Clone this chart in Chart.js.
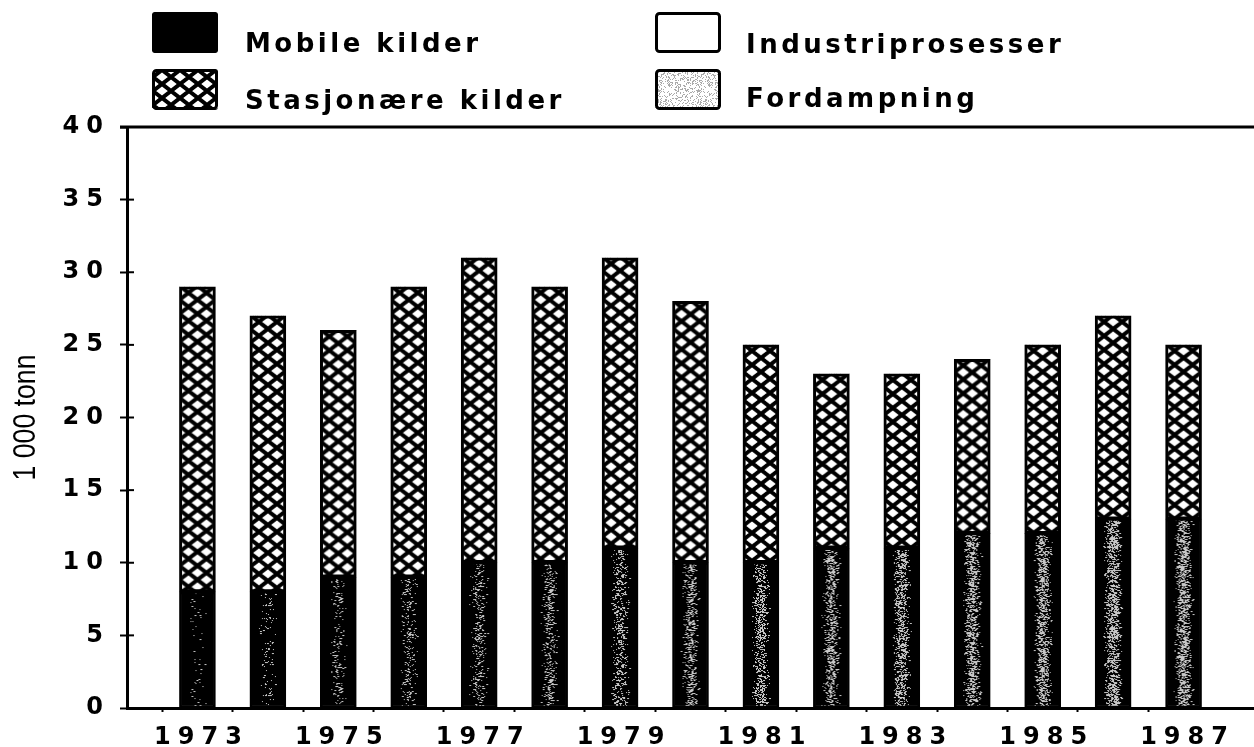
<!DOCTYPE html>
<html>
<head>
<meta charset="utf-8">
<script src="https://cdn.jsdelivr.net/npm/chart.js@4.4.1/dist/chart.umd.min.js"></script>
<style>
html,body{margin:0;padding:0;background:#fff;}
#wrap{width:1254px;height:747px;position:relative;}
</style>
</head>
<body>
<div id="wrap"><canvas id="c" width="1254" height="747"></canvas></div>
<script>
// ---------- data ----------
const years = [1973,1974,1975,1976,1977,1978,1979,1980,1981,1982,1983,1984,1985,1986,1987];
const mobileKilder = [8,8,9,9,10,10,11,10,10,11,11,12,12,13,13];
const stasjonaereKilder = [21,19,17,20,21,19,20,18,15,12,12,12,13,14,12];
const industriprosesser = [0,0,0,0,0,0,0,0,0,0,0,0,0,0,0];
const fordampning = [0,0,0,0,0,0,0,0,0,0,0,0,0,0,0];
const seriesNames = ['Mobile kilder','Stasjonære kilder','Industriprosesser','Fordampning'];
const yTickValues = [0,5,10,15,20,25,30,35,40];
const xTickLabels = ['1973','1975','1977','1979','1981','1983','1985','1987'];
const axisTitle = '1 000 tonn';

// ---------- patterns ----------
function makeHatchTile(){
  const c = document.createElement('canvas'); c.width = 18; c.height = 14;
  const g = c.getContext('2d');
  g.fillStyle = '#fff'; g.fillRect(0,0,18,14);
  g.strokeStyle = '#000'; g.lineWidth = 4;
  for (const dx of [-18,0,18]) for (const dy of [-14,0,14]) {
    g.beginPath();
    g.moveTo(dx,dy); g.lineTo(dx+18,dy+14);
    g.moveTo(dx+18,dy); g.lineTo(dx,dy+14);
    g.stroke();
  }
  return c;
}
function makeSpeckleTile(w,h,base,dot,density,seed,band){
  const c = document.createElement('canvas'); c.width = w; c.height = h;
  const g = c.getContext('2d');
  g.fillStyle = base; g.fillRect(0,0,w,h);
  let s = seed;
  const rnd = () => { s = (s * 1103515245 + 12345) % 2147483648; return s / 2147483648; };
  g.fillStyle = dot;
  const n = Math.floor(w*h*density);
  for (let i=0;i<n;i++){
    const x = band ? (w*0.2 + (rnd()+rnd()+rnd())/3 * w*0.6) : rnd()*w;
    const y = rnd()*h;
    const sz = band && rnd() < 0.3 ? 2 : 1;
    g.fillRect(Math.floor(x), Math.floor(y), sz, 1);
  }
  return c;
}
const hatchTile = makeHatchTile();
const mobileTiles = years.map((y,i) => makeSpeckleTile(36, 90, '#000', '#c8c8c8', 0.012 + i*0.014, 777 + i*31, true));
const fordTile = makeSpeckleTile(40, 40, '#fff', '#aaa', 0.3, 4242, false);

const canvas = document.getElementById('c');
const ctx2d = canvas.getContext('2d');
const hatchBase = ctx2d.createPattern(hatchTile, 'repeat');
const fordBase = ctx2d.createPattern(fordTile, 'repeat');

function hatchFill(ctx){
  if (ctx.type !== 'data') return hatchBase;
  const ch = ctx.chart;
  const cx = ch.scales.x.getPixelForValue(years[ctx.dataIndex]);
  const top = ch.scales.y.getPixelForValue(mobileKilder[ctx.dataIndex] + stasjonaereKilder[ctx.dataIndex]);
  const p = ch.ctx.createPattern(hatchTile, 'repeat');
  p.setTransform(new DOMMatrix().translate(cx - 18, top - 1));
  return p;
}
function mobileFill(ctx){
  if (ctx.type !== 'data') return '#000';
  const ch = ctx.chart;
  const cx = ch.scales.x.getPixelForValue(years[ctx.dataIndex]);
  const p = ch.ctx.createPattern(mobileTiles[ctx.dataIndex], 'repeat');
  p.setTransform(new DOMMatrix().translate(cx - 18, 0));
  return p;
}

// ---------- extras plugin (legend, title, frame) ----------
const legendSlots = [
  {x:152, y:12, tx:245, ty:52},
  {x:152, y:69, tx:245, ty:109},
  {x:655, y:12, tx:746, ty:53},
  {x:655, y:69, tx:746, ty:107}
];
const extras = {
  id: 'extras',
  beforeDraw(chart){
    chart.ctx.letterSpacing = '7px';
  },
  afterDraw(chart){
    const c = chart.ctx;
    const a = chart.chartArea;
    c.save();
    c.letterSpacing = '0px';
    // top frame line
    c.strokeStyle = '#000'; c.lineWidth = 3;
    c.beginPath(); c.moveTo(a.left - 7, a.top); c.lineTo(chart.width, a.top); c.stroke();
    // inner y ticks
    const ys = chart.scales.y;
    c.lineWidth = 2;
    ys.ticks.forEach(t => {
      const py = ys.getPixelForValue(t.value);
      c.beginPath(); c.moveTo(a.left, py); c.lineTo(a.left + 7, py); c.stroke();
    });
    // y title (condensed)
    c.save();
    c.translate(35, (a.top + a.bottom) / 2);
    c.rotate(-Math.PI/2);
    c.scale(0.86, 1);
    c.fillStyle = '#000';
    c.font = "31px 'Liberation Sans', Arial, sans-serif";
    c.textAlign = 'center'; c.textBaseline = 'alphabetic';
    c.fillText(axisTitle, 0, 0);
    c.restore();
    // legend
    const fills = ['#000', hatchBase, '#fff', fordBase];
    chart.data.datasets.forEach((ds, i) => {
      const s = legendSlots[i];
      c.fillStyle = fills[i];
      c.beginPath(); c.roundRect(s.x, s.y, 66, 41, 3); c.fill();
      c.strokeStyle = '#000'; c.lineWidth = 3;
      c.beginPath(); c.roundRect(s.x + 1.5, s.y + 1.5, 63, 38, 3); c.stroke();
      c.fillStyle = '#000';
      c.font = "bold 26px 'DejaVu Sans', sans-serif";
      c.letterSpacing = '3.5px';
      c.textAlign = 'left'; c.textBaseline = 'alphabetic';
      c.fillText(ds.label, s.tx, s.ty);
      c.letterSpacing = '0px';
    });
    c.restore();
    c.letterSpacing = '0px';
  }
};

const tickFont = {family: "'DejaVu Sans', sans-serif", weight: 'bold', size: 24};

new Chart(canvas, {
  type: 'bar',
  data: {
    labels: years,
    datasets: [
      {label: seriesNames[0], data: mobileKilder, backgroundColor: mobileFill, borderColor: '#000', borderWidth: 2},
      {label: seriesNames[1], data: stasjonaereKilder, backgroundColor: hatchFill, borderColor: '#000', borderWidth: 3},
      {label: seriesNames[2], data: industriprosesser, backgroundColor: '#fff', borderColor: '#000', borderWidth: 0},
      {label: seriesNames[3], data: fordampning, backgroundColor: fordBase, borderColor: '#000', borderWidth: 0}
    ]
  },
  options: {
    responsive: false,
    animation: false,
    devicePixelRatio: 1,
    layout: {padding: {top: 127, left: 0, right: 0, bottom: 0}},
    plugins: {legend: {display: false}, tooltip: {enabled: false}},
    datasets: {bar: {barThickness: 36, borderSkipped: false}},
    scales: {
      x: {
        type: 'linear', min: 1972, max: 1988, stacked: true, offset: false,
        afterBuildTicks: s => { s.ticks = [1972].concat(years, [1988]).map(v => ({value: v})); },
        afterFit: s => { s.height = 39; s.paddingLeft = 0; s.paddingRight = 0; },
        grid: {
          drawOnChartArea: false, tickLength: 4, tickWidth: 2,
          tickColor: c => (c.tick && (c.tick.value < 1973 || c.tick.value > 1987)) ? 'rgba(0,0,0,0)' : '#000'
        },
        border: {display: true, color: '#000', width: 3},
        ticks: {
          autoSkip: false, maxRotation: 0, minRotation: 0, padding: 11, labelOffset: 4, color: '#000', font: tickFont,
          callback: v => { const s = String(v); return xTickLabels.includes(s) ? s : ''; }
        }
      },
      y: {
        stacked: true, min: 0, max: 40,
        afterBuildTicks: s => { s.ticks = yTickValues.map(v => ({value: v})); },
        afterFit: s => { s.width = 127; s.paddingTop = 0; s.paddingBottom = 0; },
        grid: {drawOnChartArea: false, tickLength: 7, tickWidth: 2, color: '#000'},
        border: {display: true, color: '#000', width: 3},
        ticks: {padding: 10, color: '#000', font: tickFont}
      }
    }
  },
  plugins: [extras]
});
</script>
</body>
</html>
